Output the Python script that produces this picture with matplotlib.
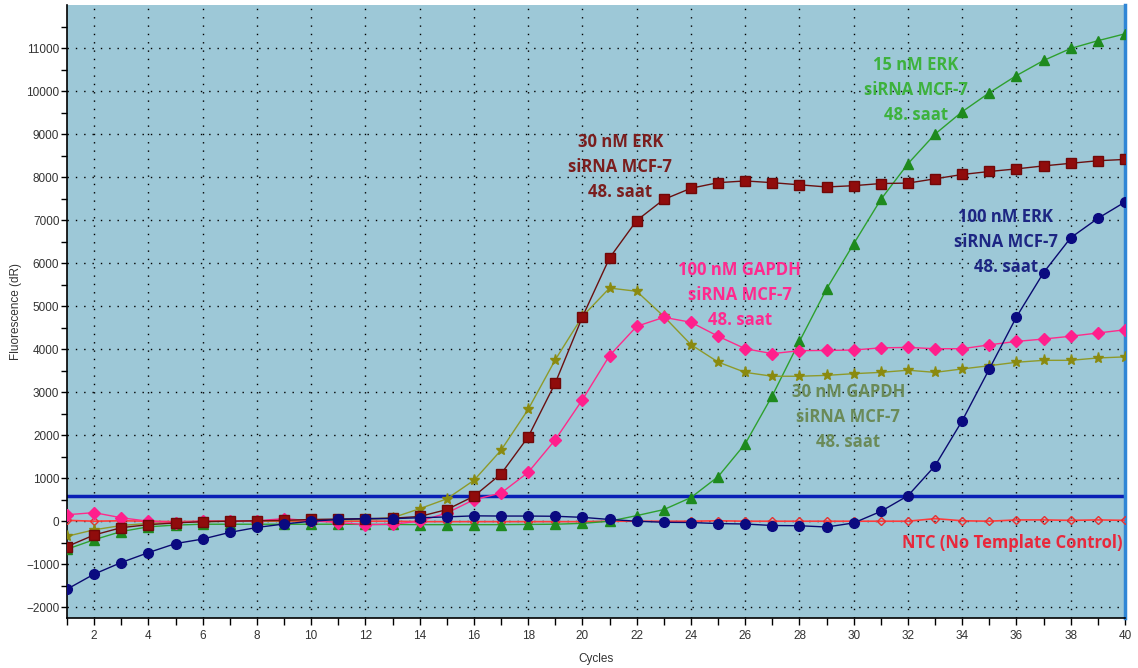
import matplotlib
matplotlib.use("Agg")
import matplotlib.pyplot as plt
from matplotlib.ticker import FixedLocator

cycles = list(range(1, 41))

erk30 = [-590, -320, -150, -80, -40, -10, 0, 10, 20, 40, 50, 60, 70, 110, 270, 580, 1100, 1960,
         3215, 4750, 6120, 6990, 7480, 7740, 7870, 7910, 7870, 7820, 7770, 7800, 7850, 7860,
         7960, 8060, 8130, 8190, 8260, 8320, 8380, 8410]
erk15 = [-650, -430, -240, -130, -90, -70, -70, -70, -70, -70, -70, -75, -75, -80, -80, -80,
         -80, -75, -70, -50, 0, 130, 270, 550, 1035, 1800, 2920, 4180, 5400, 6450, 7480,
         8310, 9000, 9520, 9960, 10360, 10710, 10990, 11170, 11330]
erk100 = [-1580, -1230, -960, -730, -520, -415, -260, -145, -65, 0, 40, 60, 60, 80, 100, 125,
          120, 120, 115, 90, 40, 0, -25, -30, -55, -65, -100, -105, -135, -40, 228, 593, 1290,
          2337, 3540, 4750, 5780, 6590, 7040, 7420]
gapdh100 = [150, 200, 80, 0, -30, 0, 0, 10, 60, 10, -30, -80, -70, 0, 190, 500, 655, 1135,
            1895, 2825, 3850, 4530, 4740, 4625, 4300, 4010, 3895, 3965, 3970, 3980, 4030,
            4040, 4010, 4010, 4100, 4180, 4235, 4300, 4375, 4450]
gapdh30 = [-350, -200, -100, -50, -30, -10, 0, 10, 10, 20, 30, 40, 80, 290, 520, 950, 1650,
           2600, 3755, 4760, 5420, 5345, 4760, 4105, 3700, 3460, 3370, 3370, 3390, 3430, 3460,
           3510, 3460, 3540, 3615, 3695, 3740, 3740, 3795, 3820]
ntc = [20, 0, 10, 0, -10, 0, 0, 0, 0, 0, 0, 0, 0, -10, -10, -10, -10, -10, -10, -10, 0, 0,
       0, 0, 10, 0, 0, 0, 0, 0, 0, 0, 60, 10, 0, 30, 30, 20, 30, 20]
threshold = 580

labels = {
    "erk30": "30 nM ERK\nsiRNA MCF-7\n48. saat",
    "erk15": "15 nM ERK\nsiRNA MCF-7\n48. saat",
    "erk100": "100 nM ERK\nsiRNA MCF-7\n48. saat",
    "gapdh100": "100 nM GAPDH\nsiRNA MCF-7\n48. saat",
    "gapdh30": "30 nM GAPDH\nsiRNA MCF-7\n48. saat",
    "ntc": "NTC (No Template Control)",
}

plt.rcParams['font.family'] = ['Liberation Sans', 'DejaVu Sans']

fig = plt.figure(figsize=(11.38, 6.68), dpi=100)
ax = fig.add_axes([67/1138, 1-618/668, (1125-67)/1138, (618-5)/668])
ax.set_facecolor('#9DC8D7')

ax.set_xlim(1, 40)
ax.set_ylim(-2250, 12000)

ax.xaxis.set_major_locator(FixedLocator(list(range(2, 41, 2))))
ax.xaxis.set_minor_locator(FixedLocator(list(range(1, 41, 2))))
ax.yaxis.set_major_locator(FixedLocator(list(range(-2000, 11001, 1000))))
ax.yaxis.set_minor_locator(FixedLocator(list(range(-1500, 11600, 1000))))
ax.grid(True, which='major', color='black', linestyle=(0, (1, 5)), linewidth=1.0)
ax.tick_params(axis='both', which='both', direction='out', length=5, width=1, labelsize=8.5,
               colors='black', labelcolor='#333333')
ax.tick_params(axis='y', which='both', length=4, pad=1.5)

ax.spines['top'].set_visible(False)
ax.spines['right'].set_color('#2F86D6')
ax.spines['right'].set_linewidth(2.5)
ax.spines['left'].set_linewidth(1.2)
ax.spines['bottom'].set_linewidth(1.2)

ax.axhline(threshold, color='#0A1FB5', linewidth=2.5, zorder=2)

ms = 6
ax.plot(cycles, ntc, color='#FF3B3B', lw=1.2, marker='D', ms=4, mfc='none', mec='#E83030', zorder=3)
ax.plot(cycles, erk15, color='#2EA02E', lw=1.0, marker='^', ms=ms+1, mfc='#1E8A1E', mec='#1E8A1E', zorder=4)
ax.plot(cycles, gapdh30, color='#8E9A2A', lw=1.0, marker='*', ms=ms+2, mfc='#8A8A10', mec='#8A8A10', zorder=4)
ax.plot(cycles, gapdh100, color='#FF2A8A', lw=1.0, marker='D', ms=ms, mfc='#FF1F8C', mec='#FF1F8C', zorder=5)
ax.plot(cycles, erk30, color='#6A1010', lw=1.0, marker='s', ms=ms+1, mfc='#900C0C', mec='#700808', zorder=5)
ax.plot(cycles, erk100, color='#0A0A70', lw=1.0, marker='o', ms=ms+1, mfc='#0A0A80', mec='#0A0A80', zorder=6)

tfont = dict(family=['Open Sans', 'DejaVu Sans'], fontweight='bold', fontsize=12,
             ha='center', va='center', linespacing=1.5, zorder=7)
ax.text(21.4, 8240, labels["erk30"], color='#7A1E1E', **tfont)
ax.text(32.3, 10030, labels["erk15"], color='#3DB23D', **tfont)
ax.text(35.6, 6500, labels["erk100"], color='#1D2683', **tfont)
ax.text(25.8, 5270, labels["gapdh100"], color='#FF2A8E', **tfont)
ax.text(29.8, 2430, labels["gapdh30"], color='#6A8A58', **tfont)
ax.text(35.85, -500, labels["ntc"], color='#E8283C', **tfont)

ax.set_xlabel('Cycles', fontsize=8.5, color='#333333', labelpad=8)
ax.set_ylabel('Fluorescence (dR)', fontsize=8.5, color='#333333', labelpad=3)

fig.savefig('out.png', dpi=100, facecolor='white')
